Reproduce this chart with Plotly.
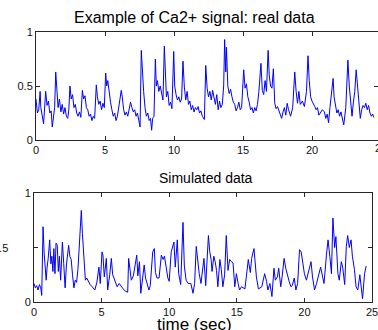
import plotly.graph_objects as go

# ---- data: real Ca2+ signal (top) ----
real_t = [0.0,0.1,0.2,0.3,0.35,0.45,0.55,0.65,0.7,0.8,0.9,1.0,1.1,1.18,1.25,1.35,1.43,1.5,1.6,1.7,1.8,1.9,2.0,2.1,2.2,2.3,2.38,2.46,2.55,2.65,2.75,2.85,2.95,3.05,3.15,3.25,3.36,3.45,3.55,3.65,3.75,3.85,3.95,4.05,4.15,4.25,4.37,4.45,4.55,4.65,4.75,4.85,4.95,5.05,5.12,5.2,5.3,5.4,5.5,5.6,5.7,5.8,5.9,6.0,6.1,6.18,6.25,6.35,6.45,6.55,6.65,6.75,6.85,6.95,7.05,7.15,7.25,7.35,7.45,7.54,7.63,7.7,7.8,7.9,8.0,8.1,8.2,8.3,8.38,8.45,8.55,8.65,8.72,8.8,8.9,9.0,9.1,9.2,9.3,9.38,9.45,9.55,9.65,9.75,9.85,9.98,10.05,10.15,10.25,10.35,10.45,10.55,10.65,10.75,10.85,10.95,11.05,11.15,11.25,11.35,11.45,11.55,11.65,11.75,11.85,11.95,12.05,12.2,12.3,12.4,12.5,12.6,12.7,12.8,12.9,13.0,13.1,13.2,13.3,13.4,13.5,13.6,13.67,13.75,13.8,13.9,14.0,14.1,14.2,14.3,14.4,14.5,14.6,14.7,14.8,14.9,15.05,15.15,15.25,15.35,15.45,15.55,15.65,15.75,15.85,15.95,16.05,16.15,16.3,16.4,16.5,16.6,16.7,16.82,16.9,17.0,17.1,17.2,17.3,17.4,17.5,17.6,17.7,17.8,17.9,18.0,18.1,18.2,18.3,18.45,18.6,18.75,18.85,18.95,19.05,19.15,19.3,19.45,19.6,19.71,19.8,19.9,20.0,20.1,20.2,20.3,20.4,20.5,20.6,20.75,20.9,21.0,21.1,21.2,21.3,21.4,21.53,21.6,21.7,21.8,21.9,22.0,22.1,22.2,22.3,22.45,22.6,22.7,22.8,22.9,23.0,23.1,23.2,23.3,23.4,23.5,23.6,23.7,23.8,23.9,24.0,24.1,24.2,24.3,24.4,24.47]
real_v = [0.38,0.25,0.28,0.45,0.3,0.2,0.15,0.35,0.45,0.32,0.36,0.25,0.27,0.12,0.2,0.3,0.63,0.45,0.3,0.38,0.26,0.33,0.24,0.3,0.22,0.2,0.28,0.5,0.38,0.42,0.3,0.33,0.25,0.22,0.26,0.21,0.46,0.38,0.41,0.3,0.28,0.22,0.24,0.18,0.22,0.2,0.51,0.4,0.33,0.36,0.28,0.34,0.3,0.62,0.5,0.55,0.42,0.35,0.28,0.22,0.25,0.18,0.22,0.3,0.38,0.46,0.4,0.28,0.23,0.26,0.22,0.3,0.35,0.3,0.26,0.28,0.22,0.25,0.18,0.12,0.83,0.6,0.45,0.3,0.22,0.25,0.18,0.2,0.09,0.2,0.22,0.75,0.5,0.55,0.45,0.5,0.42,0.37,0.87,0.5,0.4,0.45,0.32,0.35,0.29,0.82,0.5,0.42,0.37,0.4,0.35,0.38,0.73,0.49,0.37,0.45,0.33,0.36,0.28,0.32,0.26,0.3,0.28,0.31,0.25,0.27,0.22,0.19,0.69,0.48,0.4,0.45,0.37,0.46,0.4,0.33,0.42,0.28,0.36,0.3,0.33,0.5,0.93,0.63,0.86,0.5,0.43,0.47,0.4,0.35,0.33,0.27,0.3,0.35,0.28,0.3,0.65,0.48,0.52,0.4,0.35,0.28,0.3,0.25,0.3,0.27,0.33,0.45,0.71,0.46,0.42,0.55,0.45,0.83,0.6,0.5,0.48,0.66,0.34,0.29,0.31,0.27,0.24,0.2,0.26,0.3,0.23,0.34,0.28,0.22,0.3,0.63,0.45,0.34,0.45,0.33,0.36,0.31,0.45,0.78,0.55,0.4,0.36,0.34,0.31,0.28,0.3,0.23,0.25,0.28,0.26,0.2,0.24,0.16,0.3,0.4,0.57,0.4,0.3,0.25,0.28,0.22,0.26,0.18,0.14,0.3,0.74,0.5,0.34,0.22,0.35,0.45,0.65,0.5,0.37,0.2,0.28,0.32,0.3,0.34,0.28,0.32,0.25,0.22,0.24,0.21]

# ---- data: simulated signal (bottom) ----
sim_t = [0.0,0.1,0.2,0.3,0.4,0.5,0.57,0.67,0.75,0.82,0.9,0.97,1.05,1.16,1.25,1.32,1.4,1.47,1.55,1.63,1.72,1.8,1.88,1.97,2.05,2.1,2.2,2.3,2.4,2.5,2.56,2.65,2.75,2.85,2.95,3.05,3.15,3.25,3.38,3.5,3.58,3.7,3.8,3.9,4.05,4.15,4.3,4.5,4.65,4.8,4.9,5.03,5.1,5.2,5.35,5.45,5.6,5.72,5.82,6.0,6.15,6.3,6.45,6.6,6.75,6.93,7.0,7.1,7.2,7.35,7.6,7.68,7.8,7.9,8.0,8.15,8.25,8.4,8.5,8.6,8.68,8.78,8.9,8.98,9.1,9.25,9.42,9.55,9.65,9.78,9.9,10.0,10.15,10.35,10.45,10.6,10.7,10.85,11.02,11.12,11.25,11.4,11.6,11.76,11.88,12.0,12.1,12.22,12.35,12.45,12.57,12.7,12.9,13.0,13.1,13.17,13.3,13.4,13.5,13.6,13.75,13.85,13.97,14.1,14.22,14.35,14.47,14.6,14.72,14.85,14.97,15.1,15.2,15.35,15.6,15.75,15.85,16.0,16.1,16.27,16.35,16.45,16.6,16.85,17.06,17.2,17.3,17.45,17.6,17.75,17.85,18.0,18.1,18.25,18.35,18.5,18.62,18.75,18.87,19.0,19.1,19.25,19.37,19.5,19.64,19.76,19.9,20.0,20.15,20.35,20.49,20.6,20.75,20.9,21.05,21.2,21.35,21.45,21.63,21.75,21.88,22.0,22.11,22.24,22.33,22.48,22.58,22.73,22.83,22.98,23.1,23.2,23.32,23.45,23.55,23.7,23.82,23.95,24.1,24.2,24.3,24.45,24.57]
sim_v = [0.17,0.13,0.15,0.11,0.16,0.13,0.06,0.69,0.45,0.29,0.2,0.32,0.4,0.57,0.35,0.42,0.28,0.49,0.26,0.54,0.52,0.28,0.42,0.2,0.45,0.55,0.35,0.13,0.34,0.45,0.52,0.42,0.39,0.25,0.13,0.2,0.18,0.3,0.55,0.84,0.63,0.35,0.2,0.22,0.18,0.16,0.14,0.11,0.18,0.32,0.17,0.46,0.43,0.23,0.4,0.11,0.25,0.4,0.25,0.19,0.14,0.17,0.14,0.12,0.1,0.09,0.4,0.32,0.2,0.24,0.43,0.24,0.37,0.08,0.2,0.34,0.22,0.14,0.11,0.15,0.33,0.46,0.49,0.27,0.22,0.22,0.43,0.39,0.42,0.3,0.22,0.19,0.46,0.55,0.32,0.57,0.26,0.16,0.73,0.33,0.2,0.17,0.17,0.08,0.17,0.51,0.39,0.26,0.17,0.26,0.4,0.15,0.61,0.46,0.39,0.28,0.42,0.37,0.29,0.14,0.39,0.3,0.14,0.25,0.61,0.29,0.39,0.37,0.36,0.14,0.26,0.17,0.11,0.14,0.12,0.28,0.39,0.27,0.4,0.49,0.33,0.23,0.12,0.14,0.26,0.19,0.11,0.17,0.05,0.31,0.2,0.23,0.31,0.14,0.23,0.4,0.31,0.23,0.19,0.14,0.15,0.22,0.11,0.17,0.48,0.46,0.34,0.26,0.2,0.29,0.37,0.23,0.11,0.17,0.25,0.32,0.23,0.17,0.43,0.57,0.42,0.26,0.77,0.5,0.6,0.26,0.2,0.37,0.32,0.16,0.51,0.61,0.5,0.57,0.42,0.3,0.14,0.11,0.25,0.12,0.03,0.26,0.33]

x_ticks = [0, 5, 10, 15, 20, 25]
y_ticks = [0, 0.5, 1]
title_top = "Example of Ca2+ signal: real data"
title_bottom = "Simulated data"
x_label = "time (sec)"

W, H = 378, 330
FONT = "Liberation Sans, Arial, sans-serif"
AX = "#262626"

def px(x):
    return x / W

def py(y):
    return (H - y) / H

fig = go.Figure()
fig.add_trace(go.Scatter(x=real_t, y=real_v, mode="lines",
                         line=dict(color="#0000ff", width=1), xaxis="x", yaxis="y",
                         showlegend=False))
fig.add_trace(go.Scatter(x=sim_t, y=sim_v, mode="lines",
                         line=dict(color="#0000ff", width=1), xaxis="x2", yaxis="y2",
                         showlegend=False))

axis_common = dict(showline=True, linecolor=AX, linewidth=1, mirror="ticks",
                   ticks="inside", ticklen=4, tickcolor=AX, tickwidth=1,
                   showgrid=False, zeroline=False, automargin=False,
                   ticklabeloverflow="allow",
                   tickfont=dict(family=FONT, size=11, color="#111"))

# top plot: 0 -> x=36px, 13.8 px per sec
top_range_max = (W - 36) / 13.8
fig.update_layout(
    width=W, height=H,
    margin=dict(l=0, r=0, t=0, b=0, pad=0),
    paper_bgcolor="white", plot_bgcolor="white",
    xaxis=dict(domain=[px(36), 1.0], range=[0, top_range_max], anchor="y",
               tickvals=x_ticks, **axis_common),
    yaxis=dict(domain=[py(140), py(32)], range=[0, 1], anchor="x",
               tickvals=y_ticks, ticktext=["0", "0.5", "1"], **axis_common),
    xaxis2=dict(domain=[px(34), px(372)], range=[0, 25], anchor="y2",
                tickvals=x_ticks, **axis_common),
    yaxis2=dict(domain=[py(302), py(193)], range=[0, 1], anchor="x2",
                tickvals=y_ticks, ticktext=["0", "", "1"], **axis_common),
)

ann = [
    dict(text=title_top, x=px(194), y=py(17), xref="paper", yref="paper",
         xanchor="center", yanchor="middle",
         showarrow=False, font=dict(family=FONT, size=16, color="black")),
    dict(text=title_bottom, x=px(206), y=py(178), xref="paper", yref="paper",
         xanchor="center", yanchor="middle",
         showarrow=False, font=dict(family=FONT, size=14, color="black")),
    dict(text=x_label, x=px(194), y=py(324), xref="paper", yref="paper",
         xanchor="center", yanchor="middle",
         showarrow=False, font=dict(family=FONT, size=17, color="black")),
    # partially clipped labels at the picture edges (as in the reference)
    dict(text="25", x=px(381), y=py(148), xref="paper", yref="paper",
         xanchor="center", yanchor="middle",
         showarrow=False, font=dict(family=FONT, size=11, color="#111")),
    dict(text="0.5", x=px(10), y=py(248), xref="paper", yref="paper",
         xanchor="right", yanchor="middle",
         showarrow=False, font=dict(family=FONT, size=11, color="#111")),
]
fig.update_layout(annotations=ann)

fig.write_html("out.html", config={"displayModeBar": False},
               post_script="document.body.style.margin='0';")
